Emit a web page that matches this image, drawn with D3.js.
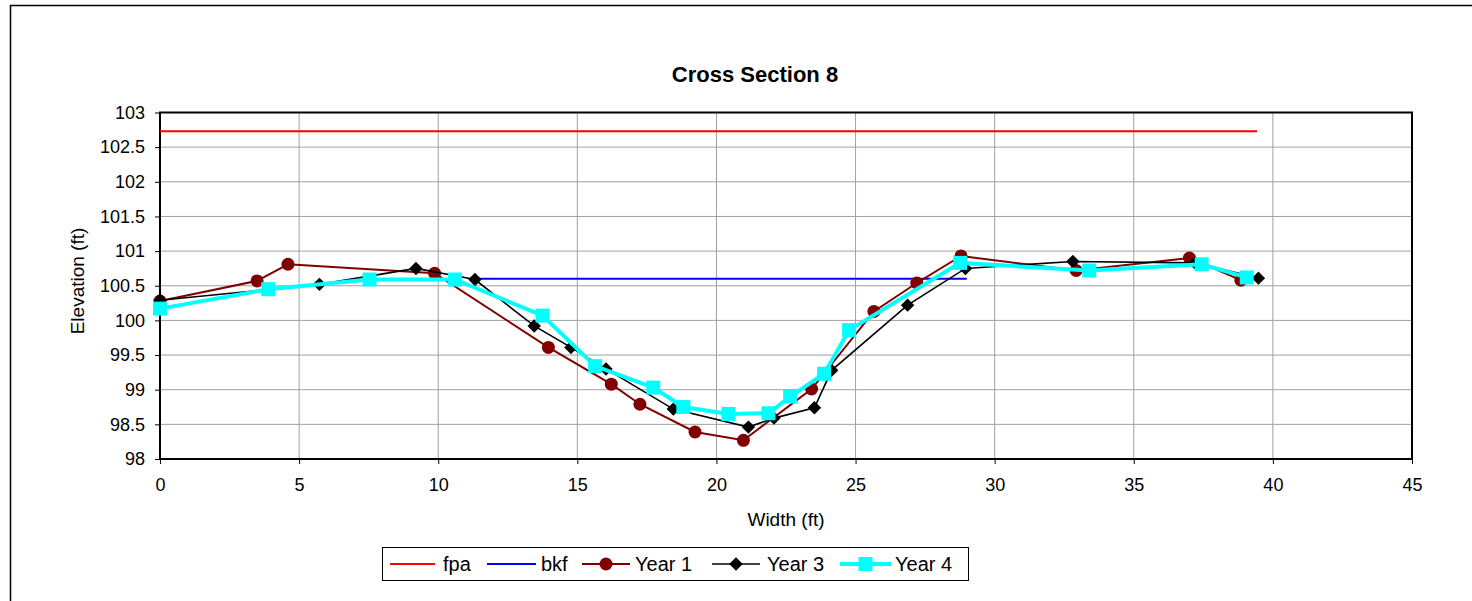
<!DOCTYPE html>
<html><head><meta charset="utf-8">
<script src="https://cdn.jsdelivr.net/npm/d3@7"></script>
<style>body{margin:0;background:#fff}svg{display:block}text{font-family:"Liberation Sans",Arial,sans-serif}</style>
</head><body><svg id="c" width="1472" height="601"></svg>
<script>
const xTicks = [0,5,10,15,20,25,30,35,40,45];
const yTicks = [98,98.5,99,99.5,100,100.5,101,101.5,102,102.5,103];
const fpaX = [0,39.43], fpaY = [102.73,102.73];
const bkfX = [11.3,29.0], bkfY = [100.6,100.6];
const y1X = [0,3.49,4.6,9.87,13.96,16.22,17.25,19.23,20.97,23.42,25.66,27.2,28.79,32.93,37.0,38.85];
const y1Y = [100.28,100.57,100.81,100.68,99.61,99.08,98.79,98.39,98.27,99.01,100.13,100.54,100.93,100.72,100.9,100.58];
const y3X = [0,5.73,9.2,11.32,13.45,14.77,16.03,18.45,21.15,22.07,23.52,24.14,26.87,28.95,32.81,37.2,39.48];
const y3Y = [100.29,100.52,100.75,100.59,99.92,99.61,99.3,98.72,98.46,98.59,98.74,99.28,100.22,100.75,100.85,100.83,100.61];
const y4X = [0,3.89,7.53,10.6,13.75,15.64,17.73,18.81,20.43,21.87,22.65,23.87,24.77,28.76,33.4,37.44,39.06];
const y4Y = [100.17,100.45,100.59,100.59,100.07,99.34,99.03,98.75,98.65,98.66,98.9,99.23,99.86,100.83,100.72,100.81,100.62];

const svg = d3.select("#c");
const L=160,R=1412,T=112.5,B=459;
const x = d3.scaleLinear().domain([0,45]).range([L,R]);
const y = d3.scaleLinear().domain([98,103]).range([B,T]);

svg.append("rect").attr("x",10.5).attr("y",5.5).attr("width",1480).attr("height",620).attr("fill","#fff").attr("stroke","#000").attr("stroke-width",1.5);

svg.append("g").selectAll("line").data(yTicks).join("line")
 .attr("x1",L).attr("x2",R).attr("y1",d=>y(d)).attr("y2",d=>y(d)).attr("stroke","#a0a0a0").attr("stroke-width",1);
svg.append("g").selectAll("line").data(xTicks).join("line")
 .attr("x1",d=>x(d)).attr("x2",d=>x(d)).attr("y1",T).attr("y2",B).attr("stroke","#a0a0a0").attr("stroke-width",1);

const xa = svg.append("g").attr("transform",`translate(0,${B})`).call(d3.axisBottom(x).tickValues(xTicks).tickSize(5).tickPadding(14).tickSizeOuter(0));
const ya = svg.append("g").attr("transform",`translate(${L},0)`).call(d3.axisLeft(y).tickValues(yTicks).tickSize(5).tickPadding(10).tickSizeOuter(0).tickFormat(d=>String(d)));
[xa,ya].forEach(g=>{g.select(".domain").remove();g.selectAll("line").attr("stroke","#000");g.selectAll("text").attr("font-size",18).attr("fill","#000").attr("font-family","Liberation Sans, Arial, sans-serif");});
xa.selectAll("text").attr("dy","0.71em");

svg.append("rect").attr("x",L).attr("y",T).attr("width",R-L).attr("height",B-T).attr("fill","none").attr("stroke","#000").attr("stroke-width",2);

const line = d3.line().x(d=>x(d[0])).y(d=>y(d[1]));
const zip=(a,b)=>a.map((v,i)=>[v,b[i]]);

svg.append("path").attr("d",line(zip(fpaX,fpaY))).attr("stroke","#ff0000").attr("stroke-width",2).attr("fill","none");
svg.append("path").attr("d",line(zip(bkfX,bkfY))).attr("stroke","#0000ff").attr("stroke-width",2).attr("fill","none");

const d1=zip(y1X,y1Y), d3p=zip(y3X,y3Y), d4=zip(y4X,y4Y);
svg.append("path").attr("d",line(d1)).attr("stroke","#800000").attr("stroke-width",2).attr("fill","none");
svg.append("g").selectAll("circle").data(d1).join("circle").attr("cx",d=>x(d[0])).attr("cy",d=>y(d[1])).attr("r",6.5).attr("fill","#800000");

const diamond = d3.symbol(d3.symbolDiamond2,115)();
svg.append("path").attr("d",line(d3p)).attr("stroke","#000").attr("stroke-width",1.6).attr("fill","none");
svg.append("g").selectAll("path").data(d3p).join("path").attr("d",diamond).attr("transform",d=>`translate(${x(d[0])},${y(d[1])})`).attr("fill","#000");

svg.append("path").attr("d",line(d4)).attr("stroke","#00ffff").attr("stroke-width",4).attr("fill","none");
svg.append("g").selectAll("rect").data(d4).join("rect").attr("x",d=>x(d[0])-7).attr("y",d=>y(d[1])-7).attr("width",14).attr("height",14).attr("fill","#00ffff");

svg.append("text").attr("x",755).attr("y",82).attr("text-anchor","middle").attr("font-weight","bold").attr("font-size",22).text("Cross Section 8");
svg.append("text").attr("x",786).attr("y",526).attr("text-anchor","middle").attr("font-size",19).text("Width (ft)");
svg.append("text").attr("transform","translate(84,281) rotate(-90)").attr("text-anchor","middle").attr("font-size",19).text("Elevation (ft)");

const lg = svg.append("g");
lg.append("rect").attr("x",382.5).attr("y",547.5).attr("width",586).attr("height",33).attr("fill","#fff").attr("stroke","#000").attr("stroke-width",1);
const items=[
 {n:"fpa",c:"#ff0000",x0:390,x1:435,tx:443,w:2,m:null},
 {n:"bkf",c:"#0000ff",x0:487,x1:536,tx:541,w:2,m:null},
 {n:"Year 1",c:"#800000",x0:582,x1:630,tx:635,w:2,m:"c"},
 {n:"Year 3",c:"#000",x0:712,x1:760,tx:767,w:1.6,m:"d"},
 {n:"Year 4",c:"#00ffff",x0:840,x1:891,tx:895,w:4,m:"s"}];
const ly=564;
items.forEach(it=>{
 lg.append("line").attr("x1",it.x0).attr("x2",it.x1).attr("y1",ly).attr("y2",ly).attr("stroke",it.c).attr("stroke-width",it.w);
 const cx=(it.x0+it.x1)/2;
 if(it.m==="c") lg.append("circle").attr("cx",cx).attr("cy",ly).attr("r",6.5).attr("fill",it.c);
 if(it.m==="d") lg.append("path").attr("d",diamond).attr("transform",`translate(${cx},${ly})`).attr("fill",it.c);
 if(it.m==="s") lg.append("rect").attr("x",cx-7).attr("y",ly-7).attr("width",14).attr("height",14).attr("fill",it.c);
 lg.append("text").attr("x",it.tx).attr("y",ly+7).attr("font-size",20).text(it.n);
});
</script></body></html>
